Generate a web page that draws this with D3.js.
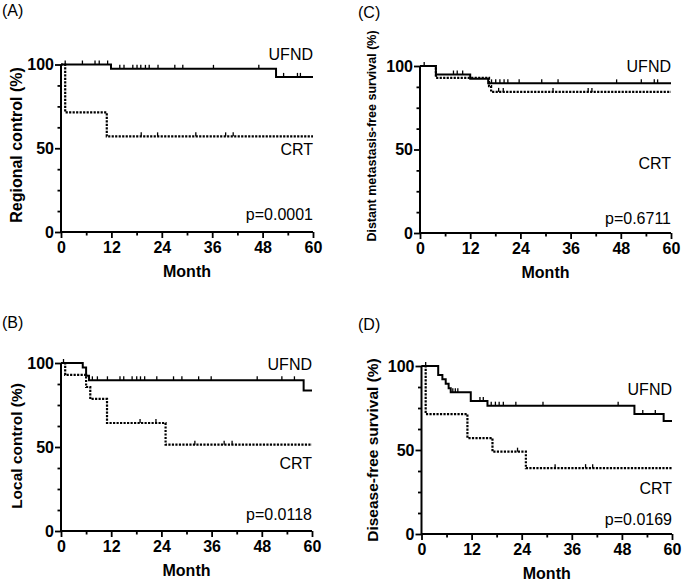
<!DOCTYPE html>
<html>
<head>
<meta charset="utf-8">
<script src="https://cdn.jsdelivr.net/npm/d3@7"></script>
<style>
  body { margin: 0; background: #fff; }
  svg { display: block; font-family: "Liberation Sans", Arial, sans-serif; }
</style>
</head>
<body>
<svg id="chart" width="682" height="582"></svg>
<script>
// axis ticks
var monthTicks = [0, 12, 24, 36, 48, 60];
var monthMinor = [6, 18, 30, 42, 54];
var pctTicks = [0, 50, 100];
var pctMinor = [12.5, 25, 37.5, 62.5, 75, 87.5];

// Kaplan-Meier steps: [month, percent], and censor times (months)
var regionalUfnd = [[0, 100], [11.9, 97.4], [51.2, 92.6], [60, 92.6]];
var regionalUfndCens = [1, 5.1, 8.1, 9.1, 11.1, 14, 15, 17.1, 18.1, 19, 20.1, 21, 23.1, 27.1, 29, 36.3, 47.1, 53, 56.3, 57];
var regionalCrt = [[0, 100], [1, 71.4], [10.9, 57.1], [60, 57.1]];
var regionalCrtCens = [19.1, 23, 32.1, 39.2, 41];

var localUfnd = [[0, 100], [5.2, 97.3], [6, 92.4], [6.7, 89.7], [58, 83.7], [60, 83.7]];
var localUfndCens = [0.6, 7.5, 8.7, 11.1, 14.1, 15, 17, 18.1, 19, 20, 22.9, 26.9, 28.9, 32.9, 35.9, 46.9, 52.8, 55.8];
var localCrt = [[0, 100], [1, 92.9], [6, 85.7], [7, 78.6], [11, 64.3], [25, 51.4], [60, 51.4]];
var localCrtCens = [18.9, 22.7, 32, 39, 40.9];

var distantUfnd = [[0, 100], [3.8, 94.9], [12, 92.4], [16.3, 89.6], [60, 89.6]];
var distantUfndCens = [1, 8, 8.9, 10.2, 17.1, 18.1, 19.1, 20.1, 21, 23.7, 29.1, 33, 47, 52.9, 56, 56.8];
var distantCrt = [[0, 100], [3.8, 92.9], [16.5, 88], [17, 84.5], [60, 84.5]];
var distantCrtCens = [18.8, 19.9, 31.8, 40.2, 41.1];

var dfsUfnd = [[0, 100], [4, 94.7], [5, 92.1], [5.8, 89.5], [6.5, 86.8], [7, 84.4], [11.8, 79.2], [15.8, 76.4], [51, 71.5], [58, 67.3], [60, 67.3]];
var dfsUfndCens = [1, 7.5, 8.1, 8.7, 14, 14.8, 16.7, 17.7, 18.6, 19.6, 22.6, 29.1, 47.1, 53, 56];
var dfsCrt = [[0, 100], [1, 71.4], [11, 57.1], [17, 49], [25, 39.2], [60, 39.2]];
var dfsCrtCens = [23, 32, 39.3, 41];

var panels = [
  {tag: '(A)', tagX: 2, tagY: 16, ylabel: 'Regional control (%)', yFont: 16, labX: 22, labY: 145,
   left: 61, right: 313, top: 64.5, bottom: 232,
   ufnd: regionalUfnd, ufndC: regionalUfndCens, crt: regionalCrt, crtC: regionalCrtCens,
   pval: 'p=0.0001', ufndAt: 102.6, crtAt: 45.8, pAt: 7},
  {tag: '(C)', tagX: 358, tagY: 18, ylabel: 'Distant metastasis-free survival (%)', yFont: 12.5, labX: 376, labY: 136,
   left: 420, right: 671, top: 66, bottom: 233,
   ufnd: distantUfnd, ufndC: distantUfndCens, crt: distantCrt, crtC: distantCrtCens,
   pval: 'p=0.6711', ufndAt: 96.4, crtAt: 38.6, pAt: 5.6},
  {tag: '(B)', tagX: 2, tagY: 328, ylabel: 'Local control (%)', yFont: 15.5, labX: 22, labY: 446,
   left: 61, right: 312, top: 363, bottom: 531,
   ufnd: localUfnd, ufndC: localUfndCens, crt: localCrt, crtC: localCrtCens,
   pval: 'p=0.0118', ufndAt: 95.6, crtAt: 37.1, pAt: 6.4},
  {tag: '(D)', tagX: 358, tagY: 330, ylabel: 'Disease-free survival (%)', yFont: 15.5, labX: 378, labY: 450,
   left: 421.5, right: 672, top: 366, bottom: 534,
   ufnd: dfsUfnd, ufndC: dfsUfndCens, crt: dfsCrt, crtC: dfsCrtCens,
   pval: 'p=0.0169', ufndAt: 82.8, crtAt: 23.9, pAt: 5.5}
];

var svg = d3.select('#chart');

// survival level at time t from a step list
function levelAt(steps, t) {
  var v = steps[0][1];
  steps.forEach(function(s) { if (s[0] <= t) v = s[1]; });
  return v;
}

function drawPanel(p) {
  var x = d3.scaleLinear().domain([0, 60]).range([p.left, p.right]);
  var y = d3.scaleLinear().domain([0, 100]).range([p.bottom, p.top]);
  var g = svg.append('g');

  g.append('text').attr('x', p.tagX).attr('y', p.tagY)
    .style('font-size', '16px').text(p.tag);

  // axes
  var gx = g.append('g').attr('transform', 'translate(0,' + p.bottom + ')')
    .call(d3.axisBottom(x).tickValues(monthTicks).tickSize(6).tickPadding(4));
  var gy = g.append('g').attr('transform', 'translate(' + p.left + ',0)')
    .call(d3.axisLeft(y).tickValues(pctTicks).tickSize(6).tickPadding(1));
  g.append('g').attr('transform', 'translate(0,' + p.bottom + ')')
    .call(d3.axisBottom(x).tickValues(monthMinor).tickSize(3.5).tickFormat(''))
    .select('.domain').remove();
  g.append('g').attr('transform', 'translate(' + p.left + ',0)')
    .call(d3.axisLeft(y).tickValues(pctMinor).tickSize(3.5).tickFormat(''))
    .select('.domain').remove();
  gx.select('.domain').attr('d', 'M' + p.left + ',0H' + p.right);
  gy.select('.domain').attr('d', 'M0,' + p.bottom + 'V' + p.top);
  g.selectAll('.domain').attr('stroke', '#000').attr('stroke-width', 2);
  g.selectAll('.tick line').attr('stroke', '#000').attr('stroke-width', 1.8);
  g.selectAll('.tick text').attr('fill', '#000')
    .style('font-size', '16px').style('font-weight', 'bold');

  g.append('text').attr('x', (p.left + p.right) / 2).attr('y', p.bottom + 45)
    .attr('text-anchor', 'middle').style('font-size', '16px').style('font-weight', 'bold')
    .text('Month');
  g.append('text')
    .attr('transform', 'translate(' + p.labX + ',' + p.labY + ') rotate(-90)')
    .attr('text-anchor', 'middle').style('font-size', p.yFont + 'px').style('font-weight', 'bold')
    .text(p.ylabel);

  var line = d3.line().x(function(d) { return x(d[0]); }).y(function(d) { return y(d[1]); })
    .curve(d3.curveStepAfter);

  g.append('path').datum(p.crt).attr('d', line).attr('fill', 'none')
    .attr('stroke', '#000').attr('stroke-width', 2.2).attr('stroke-dasharray', '2.2,1.3');
  g.append('path').datum(p.ufnd).attr('d', line).attr('fill', 'none')
    .attr('stroke', '#000').attr('stroke-width', 2);

  // censor marks
  [[p.ufnd, p.ufndC], [p.crt, p.crtC]].forEach(function(pair) {
    g.selectAll(null).data(pair[1]).enter().append('line')
      .attr('x1', function(t) { return x(t); }).attr('x2', function(t) { return x(t); })
      .attr('y1', function(t) { return y(levelAt(pair[0], t)); })
      .attr('y2', function(t) { return y(levelAt(pair[0], t)) - 4; })
      .attr('stroke', '#000').attr('stroke-width', 1.3);
  });

  // annotations
  [['UFND', p.ufndAt], ['CRT', p.crtAt], [p.pval, p.pAt]].forEach(function(a) {
    g.append('text').attr('x', p.right).attr('y', y(a[1]))
      .attr('text-anchor', 'end').style('font-size', '16px').text(a[0]);
  });
}

panels.forEach(drawPanel);
</script>
</body>
</html>
